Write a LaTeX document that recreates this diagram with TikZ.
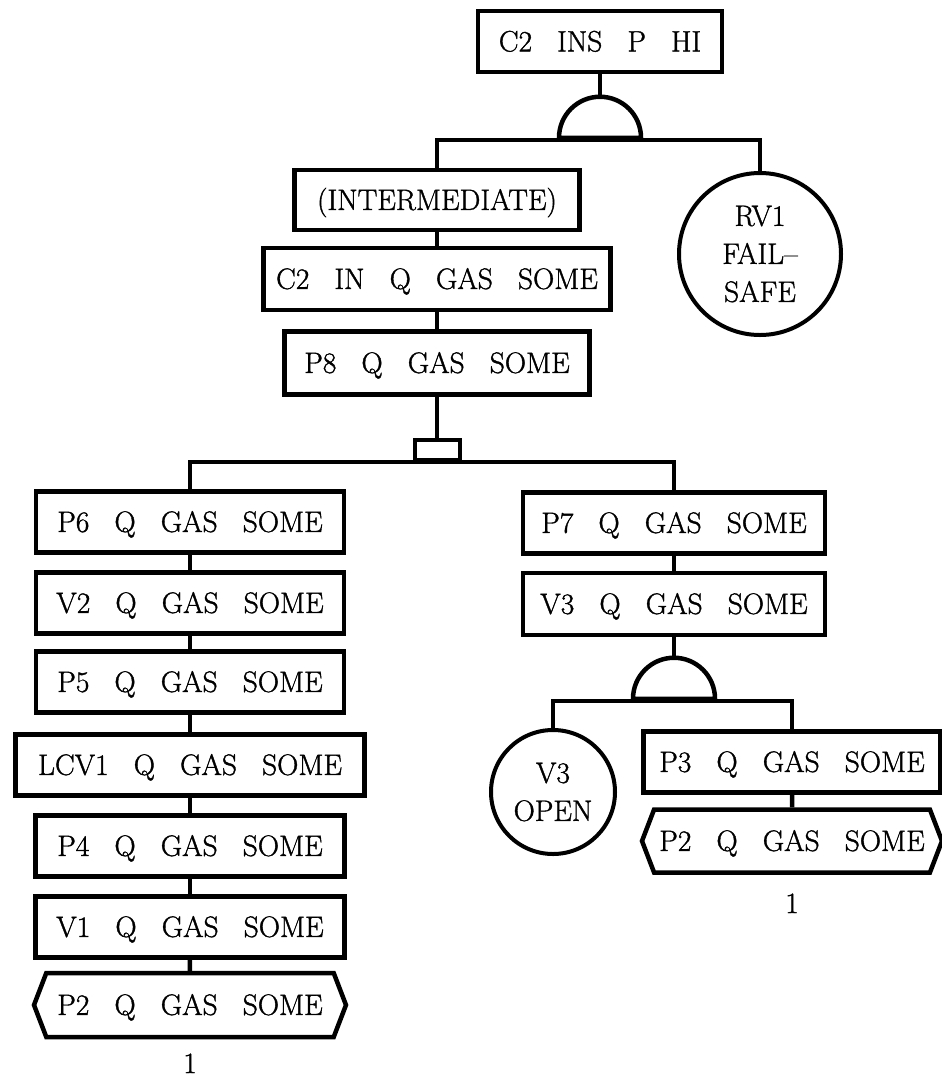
\documentclass[tikz,border=0pt]{standalone}
\usepackage{fontspec}
\usetikzlibrary{shapes.geometric,shapes.symbols}

\newfontfamily\plotterfont{Latin Modern Roman}[FakeBold=1.2]
\newcommand{\treefont}{\plotterfont\fontsize{29.5}{38}\selectfont\spaceskip=.85em\relax}

\tikzset{
  ev/.style={draw, rectangle, line width=4.5pt, minimum height=61pt, inner sep=0pt,
    text height=19.8pt, text depth=0pt},
  basic/.style={draw, circle, line width=4pt, inner sep=0pt, align=center},
  xfer/.style={draw, signal, signal to=west and east, signal pointer angle=138,
    line width=4.5pt, minimum height=63pt, inner sep=0pt, text height=19.8pt, text depth=0pt},
  andgate/.style={draw, semicircle, line width=4.5pt, minimum width=82pt, inner sep=0pt},
  orgate/.style={draw, rectangle, line width=4pt, minimum width=45pt, minimum height=20pt, inner sep=0pt},
  link/.style={line width=4.5pt},
}

\begin{document}
\begin{tikzpicture}[x=1pt, y=-1pt, font=\treefont]

    \useasboundingbox (0,0) rectangle (942,1077);

    % top event and the first and gate
    \node[ev, minimum width=244pt] (top) at (600,41.5) {C2 INS P HI};
    \node[andgate, anchor=chord center] (and1) at (600,140) {};
    \node[ev, minimum width=285pt, minimum height=60pt] (inter) at (437,200) {(INTERMEDIATE)};
    \node[basic, minimum size=162pt] (rv1) at (760,254) {RV1\\FAIL\textendash\\SAFE};
    \node[ev, minimum width=347pt, minimum height=62pt] (c2in) at (437,279) {C2 IN Q GAS SOME};
    \node[ev, minimum width=305pt, minimum height=63pt] (p8) at (437,363) {P8 Q GAS SOME};
    \node[orgate] (or1) at (437,450) {};

    % left branch
    \foreach \n/\y/\w/\t in {p6/522/308/P6 Q GAS SOME, v2/603/308/V2 Q GAS SOME,
        p5/682/308/P5 Q GAS SOME, lcv1/765/349/LCV1 Q GAS SOME,
        p4/846/309/P4 Q GAS SOME, v1/927/309/V1 Q GAS SOME}{
        \node[ev, minimum width=\w pt] (\n) at (190,\y) {\t};
    }
    \node[xfer, minimum width=312pt, minimum height=64pt] (p2a) at (190,1005) {P2 Q GAS SOME};
    \node[anchor=north] (cnt1) at (190,1050) {1};

    % right branch
    \node[ev, minimum width=302pt] (p7) at (674,523) {P7 Q GAS SOME};
    \node[ev, minimum width=302pt, minimum height=62pt] (v3) at (674,604) {V3 Q GAS SOME};
    \node[andgate, anchor=chord center] (and2) at (674,701) {};
    \node[basic, minimum size=124pt] (v3open) at (553,792) {V3\\OPEN};
    \node[ev, minimum width=297pt] (p3) at (792,762) {P3 Q GAS SOME};
    \node[xfer, minimum width=300pt] (p2b) at (792,841) {P2 Q GAS SOME};
    \node[anchor=north] (cnt2) at (792,890) {1};

    % lines
    \draw[link] (top.south) -- (and1.apex);
    \draw[link] (inter.north) |- (and1.chord center) -| (rv1.north);
    \draw[link] (inter) -- (c2in);
    \draw[link] (c2in) -- (p8);
    \draw[link] (p8.south) -- (or1.north);
    \draw[link] (p6.north) |- (or1.south) -| (p7.north);
    \foreach \a/\b in {p6/v2,v2/p5,p5/lcv1,lcv1/p4,p4/v1,v1/p2a}{
        \draw[link] (\a) -- (\b);
    }
    \draw[link] (p7) -- (v3);
    \draw[link] (v3.south) -- (and2.apex);
    \draw[link] (v3open.north) |- (and2.chord center) -| (p3.north);
    \draw[link] (p3) -- (p2b);

\end{tikzpicture}
\end{document}
